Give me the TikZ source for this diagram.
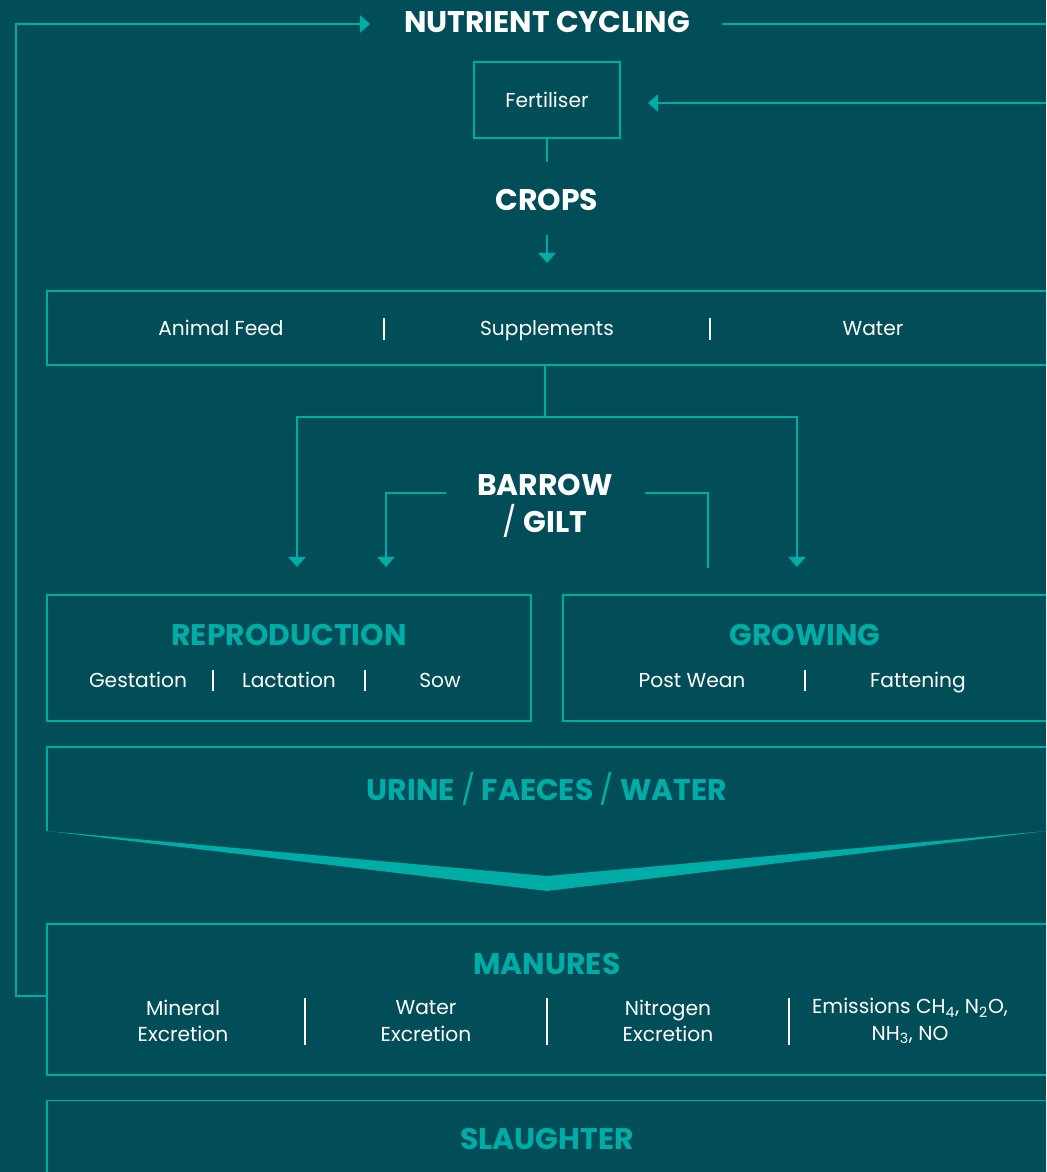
\documentclass[tikz,border=0pt]{standalone}
\usepackage{fontspec}
\setmainfont{Poppins}
\usetikzlibrary{arrows.meta}

\definecolor{bgteal}{RGB}{1,78,89}
\definecolor{lineteal}{RGB}{0,172,166}

\tikzset{
  flow/.style={draw=lineteal, line width=1pt},
  flowarrow/.style={flow, -{Triangle[width=10pt,length=5.8pt]}},
  box/.style={draw=lineteal, line width=0.9pt, inner sep=0pt},
  sep/.style={draw=white, line width=0.6pt},
  title/.style={text=white, font=\bfseries\fontsize{17}{20}\selectfont, inner sep=0pt},
  head/.style={text=lineteal, font=\bfseries\fontsize{17}{20}\selectfont, inner sep=0pt},
  itemtwo/.style={text=white, font=\fontsize{11.5}{15}\selectfont, inner sep=0pt, align=center},
  item/.style={itemtwo, text height=1.5ex, text depth=0pt},
}

\begin{document}
\begin{tikzpicture}[x=0.02cm,y=-0.02cm]
  \useasboundingbox (0,0) rectangle (1046,1172);
  \clip (0,0) rectangle (1046,1172);
  \fill[bgteal] (0,0) rectangle (1046,1172);

  % top: nutrient cycling and fertiliser
  \node[title] (nutri) at (547,22) {NUTRIENT CYCLING};
  \coordinate (cyclein) at (370,24);
  \coordinate (cycleout) at (722,24);
  \coordinate (fertin) at (648,103);
  \node[box, item, minimum width=2.92cm, minimum height=1.52cm] (fert) at (547,100) {Fertiliser};
  \coordinate (fertout) at (547,162);
  \node[title] (crops) at (547,200) {CROPS};
  \coordinate (cropsout) at (547,235);
  \coordinate (feedin) at (547,263);

  % feed box
  \node[box, minimum width=20cm, minimum height=1.48cm] (feed) at (547,328) {};
  \node[item] (animalfeed) at (221,328) {Animal Feed};
  \node[item] (supplements) at (547,328) {Supplements};
  \node[item] (water) at (873,328) {Water};
  \foreach \x in {384,710}
    \draw[sep] (\x,318) -- (\x,340);

  % barrow / gilt
  \coordinate (split) at (545,417);
  \node[title, align=center, font=\bfseries\fontsize{17}{21}\selectfont] (barrow) at (545,506)
    {BARROW\\[0pt]{\mdseries /} GILT};
  \coordinate (reproin) at (297,567);
  \coordinate (growin) at (797,567);
  \coordinate (sowin) at (386,567);
  \coordinate (barrowl) at (446,493);
  \coordinate (barrowr) at (645,493);
  \coordinate (growup) at (708,568);

  % reproduction and growing
  \node[box, minimum width=9.68cm, minimum height=2.52cm] (repro) at (289,658) {};
  \node[head] (reprohead) at (289,635) {REPRODUCTION};
  \node[item] (gestation) at (138,680) {Gestation};
  \node[item] (lactation) at (289,680) {Lactation};
  \node[item] (sow) at (440,680) {Sow};
  \foreach \x in {213,365}
    \draw[sep] (\x,670) -- (\x,691);
  \node[box, minimum width=9.68cm, minimum height=2.52cm] (grow) at (805,658) {};
  \node[head] (growhead) at (805,635) {GROWING};
  \node[item] (postwean) at (692,680) {Post Wean};
  \node[item] (fattening) at (918,680) {Fattening};
  \draw[sep] (805,670) -- (805,691);

  % urine / faeces / water
  \draw[box] (47,831) -- (47,747) -- (1047,747) -- (1047,831);
  \fill[lineteal] (47,831) -- (547,891) -- (1047,831) -- (547,876) -- cycle;
  \node[head] (urine) at (547,789) {URINE {\mdseries /} FAECES {\mdseries /} WATER};

  % manures
  \node[box, minimum width=20cm, minimum height=3.02cm] (manure) at (547,999.5) {};
  \node[head] (manurehead) at (547,964) {MANURES};
  \node[itemtwo] (mineral) at (183,1021) {Mineral\\Excretion};
  \node[itemtwo] (waterex) at (426,1021) {Water\\Excretion};
  \node[itemtwo] (nitrogen) at (668,1021) {Nitrogen\\Excretion};
  \node[itemtwo] (emissions) at (910,1021) {Emissions CH\textsubscript{4}, N\textsubscript{2}O,\\NH\textsubscript{3}, NO};
  \foreach \x in {305,547,789}
    \draw[sep] (\x,998) -- (\x,1045);
  \coordinate (loopout) at (47,996);

  % slaughter
  \node[box, minimum width=20cm, minimum height=1.98cm] (slaughter) at (547,1150) {};
  \node[head] (slaughterhead) at (547,1139) {SLAUGHTER};

  % connectors
  \draw[flowarrow] (loopout) -- (16,996) |- (cyclein);
  \draw[flowarrow] (cycleout) -- (1070,24) |- (fertin);
  \draw[flow] (fert.south) -- (fertout);
  \draw[flowarrow] (cropsout) -- (feedin);
  \draw[flow] (split |- feed.south) -- (split);
  \draw[flowarrow] (split) -| (reproin);
  \draw[flowarrow] (split) -| (growin);
  \draw[flowarrow] (barrowl) -| (sowin);
  \draw[flow] (barrowr) -| (growup);
\end{tikzpicture}
\end{document}
